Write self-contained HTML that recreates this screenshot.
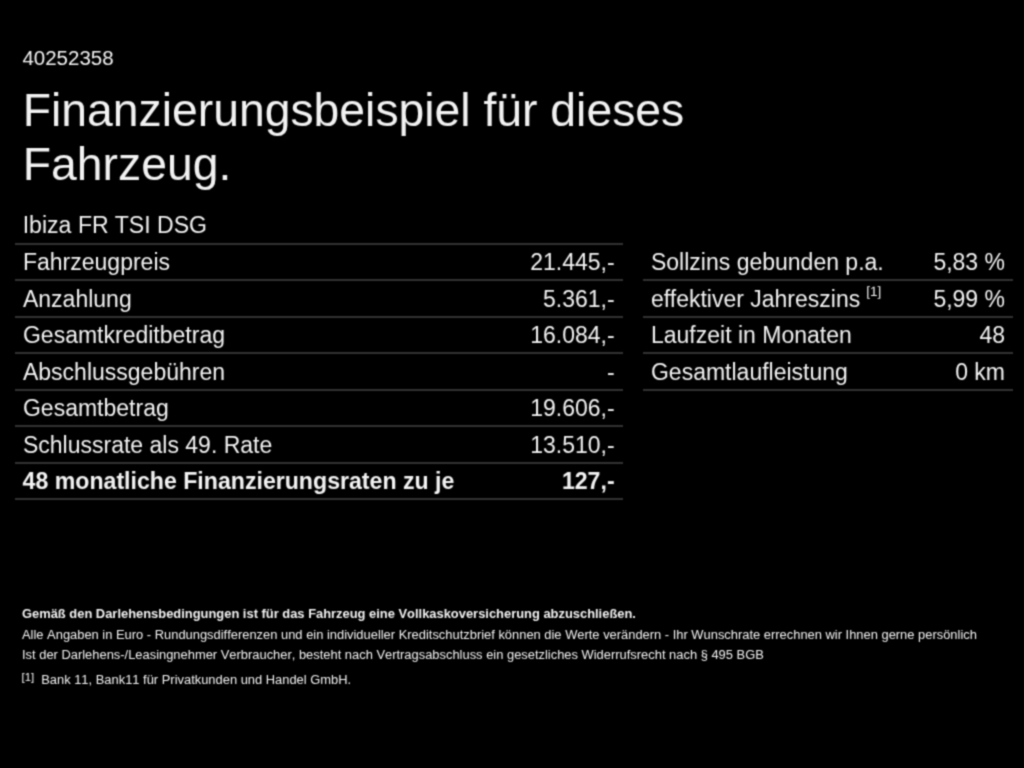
<!DOCTYPE html>
<html><head><meta charset="utf-8">
<style>
html,body{margin:0;padding:0;background:#000;}
body{width:1024px;height:768px;overflow:hidden;position:relative;color:#f2f2f2;font-family:"Liberation Sans",sans-serif;}
#wrap{position:absolute;left:0;top:0;width:1024px;height:768px;filter:url(#sb);}
.a{position:absolute;white-space:nowrap;line-height:1;}
#num{left:22.4px;top:48.3px;font-size:20.5px;}
#t1{left:22.8px;top:87.2px;font-size:46.3px;}
#t2{left:22.8px;top:140.8px;font-size:46.3px;}
#model{left:22.7px;top:214px;font-size:23.1px;}
.tbl{position:absolute;}
.row{position:absolute;left:0;right:0;height:36.5px;border-top:2px solid #323232;box-sizing:border-box;font-size:23px;}
.row.nl{border-top-color:transparent;}
.row span{position:absolute;top:6.4px;line-height:1;white-space:nowrap;}
.row .l{left:8.4px;}
.row .r{right:8.2px;}
.b{font-weight:bold;}
.row.b{font-size:23.13px;}
.row.b .l{left:8px;}
#L{left:14.6px;top:242.7px;width:608.2px;}
#R{left:643.4px;top:242.7px;width:369.8px;}
#R .row .l{left:7.6px;}
.ln{position:absolute;left:0;right:0;height:2px;background:#323232;}
.f{font-size:12.92px;left:22px;font-kerning:none;}
.row span.s{position:relative;font-size:13.5px;top:-10.7px;left:6px;text-rendering:geometricPrecision;}
</style></head><body>
<svg width="0" height="0" style="position:absolute"><defs><filter id="sb" x="0" y="0" width="100%" height="100%" color-interpolation-filters="sRGB"><feConvolveMatrix order="3" kernelMatrix="0.0400 0.1200 0.0400 0.1200 0.3600 0.1200 0.0400 0.1200 0.0400" edgeMode="duplicate" preserveAlpha="false"/></filter></defs></svg>
<div id="wrap">
<div class="a" id="num">40252358</div>
<div class="a" id="t1">Finanzierungsbeispiel für dieses</div>
<div class="a" id="t2">Fahrzeug.</div>
<div class="a" id="model">Ibiza FR TSI DSG</div>
<div class="tbl" id="L">
<div class="row" style="top:0.00px"><span class="l">Fahrzeugpreis</span><span class="r">21.445,-</span></div>
<div class="row" style="top:36.50px"><span class="l">Anzahlung</span><span class="r">5.361,-</span></div>
<div class="row" style="top:73.00px"><span class="l">Gesamtkreditbetrag</span><span class="r">16.084,-</span></div>
<div class="row" style="top:109.50px"><span class="l">Abschlussgebühren</span><span class="r">-</span></div>
<div class="row" style="top:146.00px"><span class="l">Gesamtbetrag</span><span class="r">19.606,-</span></div>
<div class="row" style="top:182.50px"><span class="l">Schlussrate als 49. Rate</span><span class="r">13.510,-</span></div>
<div class="row b" style="top:219.00px"><span class="l">48 monatliche Finanzierungsraten zu je</span><span class="r">127,-</span></div>
<div class="ln" style="top:255.50px"></div>
</div>
<div class="tbl" id="R">
<div class="row nl" style="top:0.00px"><span class="l">Sollzins gebunden p.a.</span><span class="r">5,83 %</span></div>
<div class="row" style="top:36.50px"><span class="l">effektiver Jahreszins<span class="s">[1]</span></span><span class="r">5,99 %</span></div>
<div class="row" style="top:73.00px"><span class="l">Laufzeit in Monaten</span><span class="r">48</span></div>
<div class="row" style="top:109.50px"><span class="l">Gesamtlaufleistung</span><span class="r">0 km</span></div>
<div class="ln" style="top:146.00px"></div>
</div>
<div class="a f b" id="f1" style="top:608.1px">Gemäß den Darlehensbedingungen ist für das Fahrzeug eine Vollkaskoversicherung abzuschließen.</div>
<div class="a f" id="f2" style="top:629px">Alle Angaben in Euro - Rundungsdifferenzen und ein individueller Kreditschutzbrief können die Werte verändern - Ihr Wunschrate errechnen wir Ihnen gerne persönlich</div>
<div class="a f" id="f3" style="top:648.5px">Ist der Darlehens-/Leasingnehmer Verbraucher, besteht nach Vertragsabschluss ein gesetzliches Widerrufsrecht nach § 495 BGB</div>
<div class="a f" id="f4" style="top:673.8px"><span id="fn" style="font-size:11.4px;position:relative;top:-2.4px;left:-0.4px">[1]</span><span id="fnt" style="position:absolute;left:19.2px;top:0">Bank 11, Bank11 für Privatkunden und Handel GmbH.</span></div>
</div></body></html>
